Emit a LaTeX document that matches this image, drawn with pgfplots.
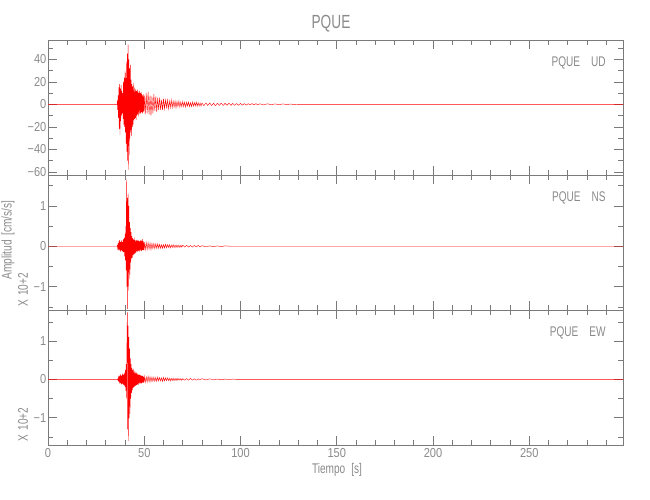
\documentclass[border=0pt]{standalone}
\usepackage{fontspec}
\setmainfont{Liberation Sans}[FakeStretch=0.72]
\newfontfamily\tickfont{Liberation Sans}[FakeStretch=0.85]
\usepackage{pgfplots}
\pgfplotsset{compat=1.18}
\definecolor{axgray}{HTML}{7A7A7A}
\definecolor{lblgray}{HTML}{8A8A8A}
\tikzset{lbl/.style={anchor=base east, text=lblgray, font=\fontsize{14}{14}\selectfont},
  sl/.style={red, line width=0.4pt, mark=none, sharp plot}}
\begin{document}
\begin{tikzpicture}
\path[use as bounding box] (0,0) rectangle (650pt,500pt);
\pgfplotsset{seis/.style={
  scale only axis, width=575pt, height=135pt,
  xmin=0, xmax=298.7,
  xtick={0,50,...,250}, minor xtick={10,20,...,290},
  axis line style={draw=axgray, line width=0.6pt},
  tick style={draw=axgray, line width=0.6pt},
  major tick length=9pt, minor tick length=5pt,
  tick align=inside,
  ticklabel style={text=lblgray, font=\tickfont\fontsize{13}{13}\selectfont},
  /pgf/number format/assume math mode=true,
  yticklabel style={inner sep=0pt, xshift=-1.5pt},
  xticklabel style={inner sep=0pt, yshift=-3pt},
}}
% ---------------- UD ----------------
\begin{axis}[seis, at={(48pt,325pt)}, anchor=south west,
  ymin=-62.8, ymax=57.2, ytick={-60,-40,...,40},
  yticklabels={−60,−40,−20,0,20,40}, minor ytick={-50,-30,...,50},
  xticklabels={}]
\addplot[sl] coordinates {(0,0)(35.8,0)
(36.0,2)(36.2,-5)(36.4,8)(36.6,-12)(36.8,15)(37.0,-22)(37.2,18)(37.4,-27)(37.6,14)(37.8,-15)
(38.0,17)(38.2,-10)(38.4,12)(38.6,-8)(38.8,10)(39.0,-13)(39.2,20)(39.4,-18)(39.6,24)(39.8,-20)
(40.0,30)(40.2,-25)(40.4,28)(40.6,-35)(40.8,38)(41.0,-42)(41.2,45)(41.4,-50)(41.6,53)(41.8,-58)
(42.0,40)(42.2,-45)(42.4,32)(42.6,-30)(42.8,35)(43.0,-25)(43.2,22)(43.4,-28)(43.6,18)(43.8,-20)
(44.0,16)(44.2,-18)(44.4,19)(44.6,-14)(44.8,15)(45.0,-13)(45.2,14)(45.4,-12)(45.6,13)(45.8,-14)
(46.0,12)(46.2,-10)(46.4,13)(46.6,-9)(46.8,11)(47.0,-11)(47.2,10)(47.4,-8)(47.6,12)(47.8,-9)
(48.0,10)(48.2,-8)(48.4,11)(48.6,-7)(48.8,9)(49.0,-8)(49.2,8)(49.4,-7)(49.6,9)(49.8,-6)(50.0,8)
(50.5,-9)(51,10)(51.5,-8)(52,11)(52.5,-9)(53,8)(53.5,-10)(54,7)(54.5,-8)(55,9)(55.5,-6)(56,7)
(56.5,-7)(57,6)(57.5,-5)(58,6)(58.5,-5)(59,4)(59.5,-5)(60,5)(60.5,-4)(61,4)(61.5,-3)(62,4)
(62.5,-4)(63,3)(63.5,-3)(64,4)(64.5,-3)(65,3)(65.5,-2.5)(66,3)(66.5,-3)(67,2.5)(67.5,-2)(68,3)
(68.5,-2.5)(69,2)(69.5,-2)(70,2.5)(70.5,-2)(71,2)(71.5,-2.5)(72,2)(72.5,-1.5)(73,2)(73.5,-2)
(74,1.5)(74.5,-2)(75,2)(75.5,-1.5)(76,1.5)(76.5,-1.5)(77,2)(77.5,-1.5)(78,1.5)(78.5,-1.5)
(79,1.2)(79.5,-1.5)(80,1.2)(81,-1.2)(82,1.3)(83,-1)(84,1.2)(85,-1.1)(86,1)(87,-1.2)(88,1)
(89,-0.9)(90,1.1)(91,-1)(92,0.9)(93,-0.8)(94,1)(95,-0.9)(96,0.8)(97,-0.9)(98,0.7)(99,-0.8)
(100,0.8)(101,-0.7)(102,0.6)(103,-0.7)(104,0.6)(105,-0.6)(106,0.7)(107,-0.5)(108,0.6)(109,-0.5)
(110,0.5)(112,-0.5)(114,0.5)(116,-0.4)(118,0.4)(120,-0.4)(122,0.4)(124,-0.3)(126,0.3)(128,-0.3)
(130,0)(298.7,0)};
\node[lbl] at (rel axis cs:0.976,0.807) {PQUE\hspace{11pt}UD};
\end{axis}
% ---------------- NS ----------------
\begin{axis}[seis, at={(48pt,190pt)}, anchor=south west,
  ymin=-1.579, ymax=1.767, ytick={-1,0,1},
  yticklabels={−1,0,1}, minor ytick={-1.5,-0.5,0.5,1.5},
  xticklabels={}]
\addplot[sl] coordinates {(0,0)(35.8,0)
(36.0,0.02)(36.2,-0.05)(36.4,0.08)(36.6,-0.1)(36.8,0.12)(37.0,-0.08)(37.2,0.15)(37.4,-0.12)
(37.6,0.1)(37.8,-0.14)(38.0,0.12)(38.2,-0.1)(38.4,0.15)(38.6,-0.12)(38.8,0.1)(39.0,-0.15)
(39.2,0.18)(39.4,-0.14)(39.6,0.2)(39.8,-0.25)(40.0,0.3)(40.2,-0.35)(40.4,0.5)(40.6,-0.6)
(40.8,1.65)(41.0,-1.0)(41.2,1.2)(41.4,-1.55)(41.6,1.3)(41.8,-1.1)(42.0,1.0)(42.2,-0.8)
(42.4,0.6)(42.6,-0.7)(42.8,0.45)(43.0,-0.4)(43.2,0.35)(43.4,-0.3)(43.6,0.25)(43.8,-0.28)
(44.0,0.2)(44.2,-0.22)(44.4,0.18)(44.6,-0.2)(44.8,0.22)(45.0,-0.18)(45.2,0.15)(45.4,-0.17)
(45.6,0.14)(45.8,-0.15)(46.0,0.16)(46.2,-0.12)(46.4,0.14)(46.6,-0.13)(46.8,0.15)(47.0,-0.12)
(47.2,0.13)(47.4,-0.14)(47.6,0.12)(47.8,-0.1)(48.0,0.14)(48.2,-0.11)(48.4,0.16)(48.6,-0.12)
(48.8,0.13)(49.0,-0.09)(49.2,0.18)(49.4,-0.1)(49.6,0.12)(49.8,-0.09)(50.0,0.1)
(50.5,-0.09)(51,0.1)(51.5,-0.08)(52,0.09)(52.5,-0.07)(53,0.08)(53.5,-0.08)(54,0.07)(54.5,-0.06)
(55,0.07)(55.5,-0.06)(56,0.06)(56.5,-0.05)(57,0.06)(57.5,-0.05)(58,0.05)(58.5,-0.05)(59,0.04)
(59.5,-0.05)(60,0.04)(60.5,-0.04)(61,0.05)(61.5,-0.04)(62,0.04)(62.5,-0.03)(63,0.04)(63.5,-0.04)
(64,0.03)(64.5,-0.03)(65,0.04)(65.5,-0.03)(66,0.03)(66.5,-0.03)(67,0.03)(67.5,-0.025)(68,0.03)
(68.5,-0.03)(69,0.025)(69.5,-0.02)(70,0.03)(71,-0.02)(72,0.025)(73,-0.02)(74,0.02)(75,-0.02)
(76,0.02)(77,-0.015)(78,0.02)(79,-0.015)(80,0.015)(82,-0.015)(84,0.01)(86,-0.01)(88,0.01)
(90,-0.01)(92,0.01)(95,0)(298.7,0)};
\node[lbl] at (rel axis cs:0.976,0.807) {PQUE\hspace{11pt}NS};
\end{axis}
% ---------------- EW ----------------
\begin{axis}[seis, at={(48pt,55pt)}, anchor=south west,
  ymin=-1.71, ymax=1.81, ytick={-1,0,1},
  yticklabels={−1,0,1}, minor ytick={-1.5,-0.5,0.5,1.5},
  xticklabels={0,50,100,150,200,250}]
\addplot[sl] coordinates {(0,0)(36.0,0)
(36.2,0.01)(36.4,-0.03)(36.6,0.05)(36.8,-0.06)(37.0,0.08)(37.2,-0.1)(37.4,0.12)(37.6,-0.09)
(37.8,0.14)(38.0,-0.12)(38.2,0.1)(38.4,-0.13)(38.6,0.15)(38.8,-0.11)(39.0,0.12)(39.2,-0.14)
(39.4,0.13)(39.6,-0.16)(39.8,0.18)(40.0,-0.2)(40.2,0.25)(40.4,-0.3)(40.6,0.4)(40.8,-0.5)
(41.0,0.9)(41.2,1.75)(41.4,-1.3)(41.6,1.4)(41.8,-1.6)(42.0,1.1)(42.2,-1.0)(42.4,0.8)(42.6,-0.9)
(42.8,0.55)(43.0,-0.5)(43.2,0.4)(43.4,-0.35)(43.6,0.3)(43.8,-0.28)(44.0,0.25)(44.2,-0.22)
(44.4,0.28)(44.6,-0.2)(44.8,0.2)(45.0,-0.18)(45.2,0.22)(45.4,-0.17)(45.6,0.16)(45.8,-0.15)
(46.0,0.18)(46.2,-0.14)(46.4,0.15)(46.6,-0.13)(46.8,0.12)(47.0,-0.14)(47.2,0.13)(47.4,-0.11)
(47.6,0.12)(47.8,-0.1)(48.0,0.11)(48.2,-0.1)(48.4,0.09)(48.6,-0.1)(48.8,0.1)(49.0,-0.08)
(49.2,0.09)(49.4,-0.09)(49.6,0.08)(49.8,-0.08)(50.0,0.08)
(50.5,-0.08)(51,0.07)(51.5,-0.07)(52,0.08)(52.5,-0.06)(53,0.07)(53.5,-0.06)(54,0.06)(54.5,-0.05)
(55,0.06)(55.5,-0.05)(56,0.05)(56.5,-0.05)(57,0.06)(57.5,-0.04)(58,0.05)(58.5,-0.04)(59,0.04)
(59.5,-0.05)(60,0.05)(60.5,-0.04)(61,0.04)(61.5,-0.03)(62,0.04)(62.5,-0.03)(63,0.03)(63.5,-0.04)
(64,0.03)(64.5,-0.03)(65,0.03)(65.5,-0.03)(66,0.025)(66.5,-0.03)(67,0.03)(67.5,-0.02)(68,0.025)
(68.5,-0.02)(69,0.02)(69.5,-0.025)(70,0.02)(71,-0.02)(72,0.02)(73,-0.02)(74,0.025)(75,-0.02)
(76,0.015)(77,-0.02)(78,0.015)(79,-0.015)(80,0.02)(82,-0.015)(84,0.015)(86,-0.01)(88,0.01)
(90,-0.01)(92,0.01)(94,-0.01)(96,0.01)(98,0)(298.7,0)};
\node[lbl] at (rel axis cs:0.976,0.807) {PQUE\hspace{11pt}EW};
\end{axis}
% ---------------- texts ----------------
\node[text=lblgray, font=\fontsize{19}{19}\selectfont] at (331pt,476pt) {PQUE};
\node[text=lblgray, font=\fontsize{14}{14}\selectfont] at (337pt,30pt) {Tiempo\hspace{6pt}[s]};
\node[rotate=90, text=lblgray, font=\fontsize{14}{14}\selectfont] at (8pt,260pt) {Amplitud\hspace{5pt}[cm/s/s]};
\node[rotate=90, text=lblgray, font=\fontsize{14}{14}\selectfont] at (23pt,210pt) {X\hspace{4pt}10+2};
\node[rotate=90, text=lblgray, font=\fontsize{14}{14}\selectfont] at (23pt,75.5pt) {X\hspace{4pt}10+2};
\end{tikzpicture}
\end{document}
